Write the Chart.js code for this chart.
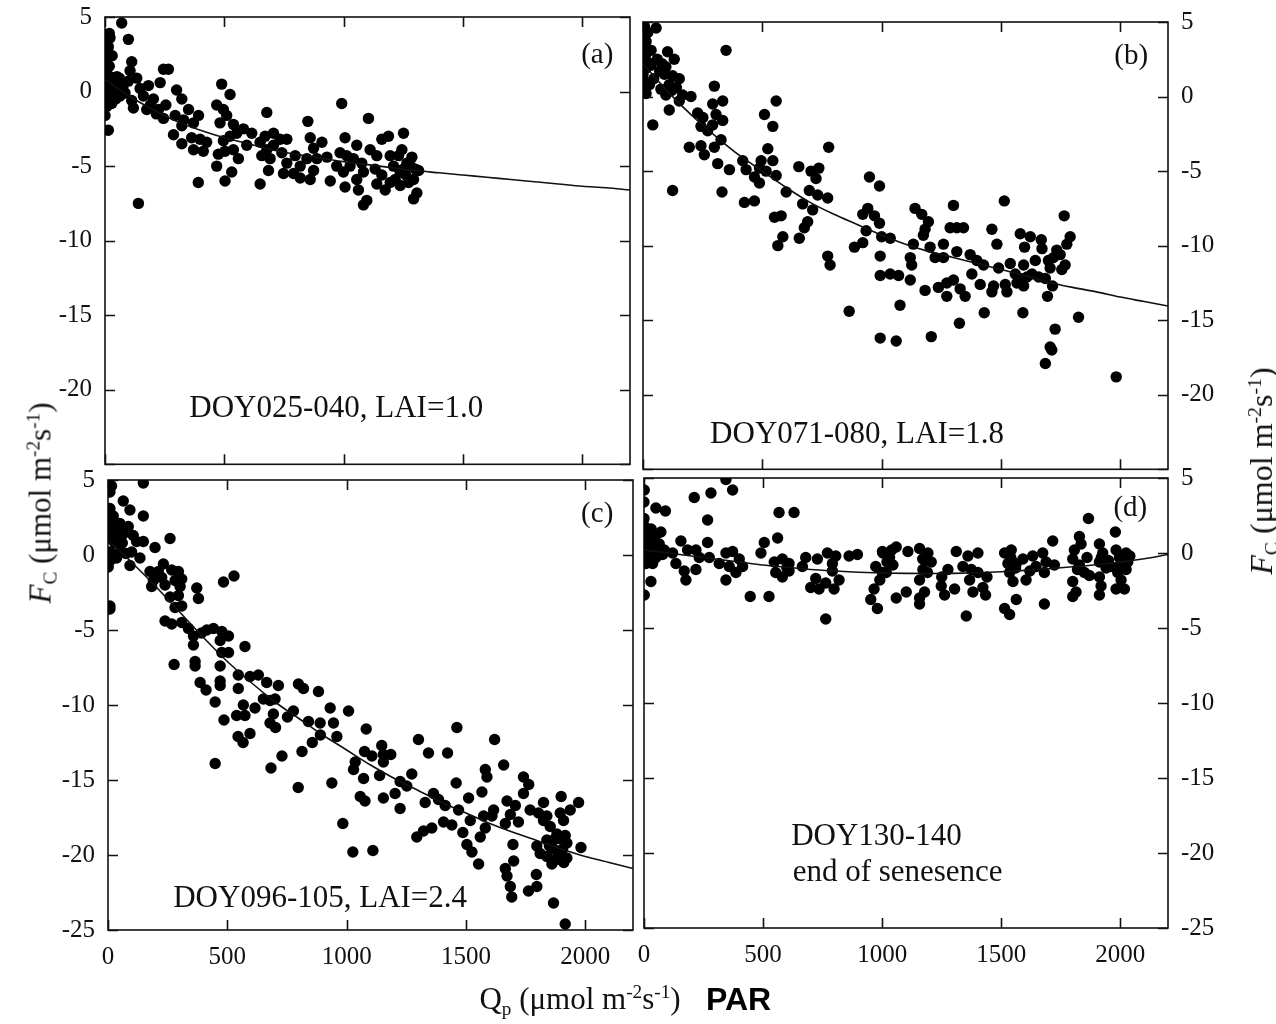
<!DOCTYPE html>
<html>
<head>
<meta charset="utf-8">
<script src="https://cdn.jsdelivr.net/npm/chart.js@4.4.1/dist/chart.umd.min.js"></script>
<style>
  html, body { margin: 0; padding: 0; background: #fff; }
  #wrap { position: relative; width: 1276px; height: 1024px; overflow: hidden; background: #fff; }
  canvas.panel { position: absolute; }
  .title { position: absolute; font-family: "Liberation Serif", "Times New Roman", serif; color: #111; white-space: nowrap; line-height: 1; }
  .title sub, .title sup { font-size: 62%; line-height: 0; position: relative; vertical-align: baseline; }
  .title sup { top: -0.55em; }
  .title sub { top: 0.3em; }
  .vt { transform: translate(-50%, -50%) rotate(-90deg); }
  .ht { transform: translate(-50%, -50%); }
  .par { position: absolute; font-family: "Liberation Sans", Arial, sans-serif; font-weight: bold; color: #000; line-height: 1; transform: translateY(-50%); }
</style>
</head>
<body>
<div id="wrap">
  <canvas id="pa" class="panel" width="640" height="470" style="left:0px;top:0px"></canvas>
  <canvas id="pb" class="panel" width="640" height="475" style="left:636px;top:0px"></canvas>
  <canvas id="pc" class="panel" width="640" height="534" style="left:0px;top:462px"></canvas>
  <canvas id="pd" class="panel" width="640" height="534" style="left:636px;top:462px"></canvas>

  <div class="title vt" style="left:40px;top:503px;font-size:31px"><i>F</i><sub>C</sub> (μmol m<sup>-2</sup>s<sup>-1</sup>)</div>
  <div class="title vt" style="left:1261px;top:471px;font-size:32px"><i>F</i><sub>C</sub> (μmol m<sup>-2</sup>s<sup>-1</sup>)</div>
  <div class="title ht" style="left:580px;top:998px;font-size:31px">Q<sub>p</sub> (μmol m<sup>-2</sup>s<sup>-1</sup>)</div>
  <div class="par" style="left:706px;top:999px;font-size:32px">PAR</div>
</div>

<script>
// Axis ticks shared by all four panels
const xTicks = [0, 500, 1000, 1500, 2000];
const yTicks = [-25, -20, -15, -10, -5, 0, 5];

// Fitted light-response curves, sampled every 100 µmol m-2 s-1
const fitQp = [0, 100, 200, 300, 400, 500, 600, 700, 800, 900, 1000, 1100,
               1200, 1300, 1400, 1500, 1600, 1700, 1800, 1900, 2000, 2100, 2200];
const fitA = [0.8, -0.3, -1.2, -2.0, -2.6, -3.1, -3.5, -3.9, -4.2, -4.45, -4.7, -4.9,
              -5.1, -5.3, -5.45, -5.6, -5.75, -5.9, -6.05, -6.2, -6.35, -6.45, -6.6];
const fitB = [2.2, 0.4, -1.2, -2.6, -3.9, -5.0, -6.1, -7.1, -7.9, -8.6, -9.3, -9.9,
              -10.4, -10.8, -11.2, -11.6, -12.0, -12.45, -12.8, -13.1, -13.45, -13.75, -14.05];
const fitC = [1.0, -0.5, -2.1, -3.8, -5.5, -7.1, -8.5, -9.8, -10.9, -12.0, -13.0, -14.0,
              -14.9, -15.7, -16.5, -17.2, -17.9, -18.5, -19.05, -19.6, -20.1, -20.5, -20.9];
const fitD = [0.2, 0.0, -0.2, -0.4, -0.6, -0.8, -0.95, -1.1, -1.2, -1.28, -1.33, -1.36,
              -1.37, -1.36, -1.32, -1.25, -1.16, -1.05, -0.92, -0.78, -0.6, -0.38, -0.1];

// Half-hourly CO2 flux vs PAR, [Qp, Fc]
const obsA = [[70,4.6],[98,3.5],[21,3.6],[14,3.0],[18,3.9],[0,2.6],[3,1.9],[7,1.5],[21,1.0],[0,0.6],
  [35,0.8],[14,-0.1],[2,-0.5],[42,0.1],[56,0.4],[28,-0.8],[7,-1.0],[63,-0.3],[0,-1.6],[14,-2.6],
  [10,2.2],[22,0.9],[8,0.3],[12,-0.2],[5,3.3],[10,2.8],[3,0.1],[25,0.2],[45,-0.5],[18,1.7],
  [30,2.4],[50,1.0],[60,0.9],[75,0.3],
  [112,2.0],[105,1.4],[133,0.9],[98,0.7],[84,-0.1],[112,-0.6],[119,-1.1],[161,-0.3],[182,0.4],[147,0.2],
  [175,-1.2],[203,-0.5],[231,0.6],[224,-1.2],[245,-1.8],[245,1.5],[266,1.5],[300,0.1],[322,-0.5],[294,-1.6],
  [190,-0.9],[215,-1.5],[255,-0.9],
  [329,-1.9],[350,-1.2],[322,-2.3],[287,-2.9],[322,-3.5],[371,-2.1],[392,-1.6],[363,-3.1],[398,-3.2],[371,-3.9],
  [412,-4.0],[426,-3.4],[391,-6.1],[140,-7.5],[489,0.5],[524,-0.2],[468,-0.9],[496,-1.2],[510,-1.6],[482,-2.1],
  [538,-2.2],[552,-2.8],[524,-3.0],[496,-3.3],[475,-4.2],[503,-4.0],[538,-3.9],[559,-4.5],[468,-5.0],[531,-5.4],
  [503,-6.0],[580,-2.5],[615,-2.8],[594,-3.6],[678,-1.4],[671,-3.0],[706,-2.8],[650,-3.4],[678,-3.9],[657,-4.3],
  [706,-3.6],[692,-4.5],[734,-3.2],[762,-3.2],[741,-4.1],[762,-4.8],[685,-5.3],[650,-6.2],[748,-5.5],[797,-4.3],
  [818,-5.0],[790,-5.5],[818,-5.8],[860,-5.9],[850,-2.0],[860,-3.1],[874,-3.8],[909,-3.4],[846,-4.5],[888,-4.5],
  [930,-4.4],[874,-5.3],[944,-6.0],[992,-0.8],[1006,-3.1],[985,-4.1],[1013,-4.3],[971,-5.0],[999,-5.4],[1027,-5.0],
  [1006,-6.4],[1055,-3.6],[1041,-4.5],[1076,-4.8],[1083,-5.4],[1055,-5.9],[1062,-6.6],[1097,-7.3],[1083,-7.6],[1104,-1.8],
  [1111,-3.9],[1139,-4.3],[1160,-3.2],[1188,-3.0],[1132,-5.2],[1160,-5.6],[1139,-6.2],[1174,-6.6],[1195,-4.3],[1230,-4.3],
  [1251,-2.8],[1244,-3.9],[1209,-5.0],[1237,-5.4],[1265,-4.8],[1286,-4.4],[1300,-5.2],[1314,-5.3],[1293,-5.9],[1272,-6.1],
  [1307,-6.8],[1293,-7.2],[1216,-5.9],[1195,-6.1],[1237,-6.3],[1260,-5.6],[1280,-5.0],[1250,-5.2]];

const obsB = [[6,4.7],[55,4.6],[6,4.1],[13,3.7],[6,3.2],[34,3.1],[0,2.6],[13,1.9],[0,1.5],[6,1.0],
  [27,0.8],[13,0.2],[34,2.1],[41,-1.9],[103,3.0],[131,2.5],[96,2.0],[90,1.5],[124,1.4],[152,1.2],
  [20,4.3],[15,2.9],[20,2.3],[8,0.5],[45,1.2],[60,2.5],[70,1.7],[80,2.2],[120,0.4],[140,0.6],
  [110,0.8],[75,0.5],[96,0.1],[166,0.1],[201,0.0],[152,-0.3],[110,-0.9],[229,-1.1],[251,-1.4],[243,-2.0],
  [271,-2.3],[292,-1.9],[299,0.7],[292,-0.5],[334,-0.3],[306,-1.2],[334,-1.6],[348,3.1],[194,-3.4],[243,-3.3],
  [257,-3.9],[299,-3.4],[327,-2.9],[313,-4.5],[362,-4.9],[124,-6.3],[331,-6.4],[418,-4.3],[432,-4.9],[509,-1.2],
  [558,-0.3],[544,-2.0],[495,-4.3],[523,-3.5],[544,-4.3],[488,-4.8],[516,-5.0],[558,-5.3],[467,-5.4],[488,-5.8],
  [600,-6.4],[425,-7.1],[467,-7.0],[551,-8.1],[579,-8.0],[586,-9.4],[565,-10.0],[655,-9.5],[653,-4.7],[704,-5.0],
  [737,-4.8],[725,-5.5],[697,-6.3],[732,-6.6],[774,-6.8],[669,-7.2],[711,-7.6],[690,-8.4],[676,-8.8],[778,-3.4],
  [774,-10.7],[784,-11.3],[864,-14.4],[886,-10.1],[949,-5.4],[991,-6.0],[921,-7.9],[942,-7.5],[970,-8.0],[935,-9.0],
  [991,-8.5],[921,-9.8],[1000,-9.4],
  [1140,-7.5],[1168,-7.9],[1196,-8.4],[1182,-8.9],[1175,-9.3],[1301,-7.3],[1514,-7.0],[1287,-8.8],[1315,-8.8],[1343,-8.8],
  [1462,-8.9],[1483,-9.9],[1765,-8.0],[1790,-9.4],[1776,-9.9],[1581,-9.2],[1623,-9.4],[1669,-9.6],[1599,-10.1],[1672,-10.2],
  [1734,-10.3],[1720,-10.8],[1748,-10.6],[1699,-11.0],[1706,-11.5],[1769,-11.3],[1755,-11.6],[1644,-11.0],[1595,-11.3],[1539,-11.2],
  [1490,-11.5],[1560,-11.9],[1581,-12.2],[1609,-12.1],[1567,-12.5],[1595,-12.7],[1630,-11.9],[1658,-12.1],[1686,-12.2],[1716,-12.7],
  [1695,-13.4],[1592,-14.5],[1727,-15.6],[1706,-16.8],[1713,-17.0],[1686,-17.9],[1825,-14.8],[1983,-18.8],[1036,-9.5],
  [994,-10.7],[994,-12.0],[1036,-11.9],[1071,-12.0],[1120,-12.3],[1133,-9.9],[1120,-10.8],[1126,-11.3],[1203,-10.1],[1224,-10.8],
  [1259,-9.9],[1259,-10.8],[1315,-10.4],[1371,-10.6],[1399,-11.0],[1427,-11.3],[1378,-11.9],[1413,-12.6],[1469,-12.7],[1518,-12.6],
  [1525,-13.1],[1462,-13.1],[1182,-13.0],[1238,-12.8],[1273,-12.5],[1301,-12.3],[1329,-12.9],[1350,-13.4],[1273,-13.4],[1077,-14.0],
  [1430,-14.5],[1326,-15.2],[994,-16.2],[1061,-16.4],[1208,-16.1]];

const obsC = [[15,4.6],[8,4.2],[148,4.8],[64,3.6],[92,3.0],[148,2.6],[8,3.1],[22,2.6],[8,2.2],[50,2.1],
  [85,1.9],[8,1.6],[36,1.3],[64,1.4],[106,1.3],[120,0.9],[148,0.9],[260,1.1],[197,0.5],[29,0.8],
  [8,0.2],[50,0.2],[99,0.2],[134,-0.2],[8,-0.4],[36,-0.2],[92,-0.7],[1,-0.8],[8,-3.4],[8,-3.6],
  [20,1.0],[40,1.8],[15,-0.1],[60,0.8],[75,0.1],
  [232,-0.6],[176,-1.1],[211,-1.1],[267,-1.0],[295,-1.1],[190,-1.7],[225,-1.5],[183,-2.1],[239,-2.0],[281,-1.7],
  [309,-1.6],[302,-2.1],[260,-2.8],[295,-2.7],[309,-3.4],[281,-3.5],[372,-2.2],[379,-2.9],[484,-1.8],[528,-1.4],
  [239,-4.4],[267,-4.6],[309,-4.5],[337,-4.9],[358,-5.4],[392,-5.2],[414,-5.0],[442,-4.9],[477,-5.1],[505,-5.4],
  [470,-5.7],[505,-6.5],[477,-6.5],[574,-6.1],[358,-6.0],[365,-7.1],[365,-7.4],[277,-7.3],[470,-7.4],[386,-8.5],
  [411,-9.0],[470,-8.4],[470,-8.7],[546,-8.0],[546,-8.9],[595,-8.1],[630,-8.0],[665,-8.5],[714,-8.7],[798,-8.6],
  [819,-8.9],[882,-9.1],[449,-9.8],[651,-9.6],[679,-9.7],[700,-9.6],[567,-10.0],[539,-10.7],[574,-10.7],[616,-10.2],
  [693,-10.6],[777,-10.4],[931,-10.2],[1008,-10.4],[486,-11.0],[679,-11.2],[752,-10.8],[840,-11.1],[889,-11.2],[945,-11.2],
  [449,-13.9],[683,-14.2],[729,-13.4],[797,-15.5],[813,-13.1],[856,-12.5],[545,-12.1],[566,-12.5],[595,-11.9],[702,-11.5],
  [890,-12.0],
  [959,-12.1],[938,-15.2],[984,-17.9],[1026,-19.8],[1110,-19.7],[1082,-11.6],[1075,-13.1],[1106,-13.4],[1147,-12.7],[1154,-13.3],
  [1185,-13.3],[1154,-13.8],[1036,-13.8],[1029,-14.3],[1071,-14.9],[1057,-16.1],[1077,-16.4],[1154,-16.2],[1138,-14.7],[1203,-15.9],
  [1224,-16.9],[1224,-15.1],[1252,-15.4],[1273,-14.6],[1301,-12.3],[1343,-13.2],[1423,-13.2],[1329,-16.5],[1364,-15.9],[1385,-16.3],
  [1413,-16.7],[1462,-11.5],[1620,-12.3],[1459,-15.2],[1469,-17.0],[1511,-16.2],[1567,-15.8],[1581,-14.3],[1588,-14.8],[1658,-14.0],
  [1741,-14.8],[1763,-15.3],[1741,-15.9],[1294,-18.8],[1322,-18.4],[1357,-18.2],[1406,-17.8],[1441,-18.0],[1487,-18.5],[1518,-17.7],
  [1574,-17.4],[1616,-17.0],[1504,-19.3],[1525,-19.8],[1553,-20.6],[1560,-18.8],[1581,-18.2],[1609,-17.4],[1665,-17.9],[1686,-17.3],
  [1720,-17.8],[1672,-16.4],[1707,-16.7],[1769,-17.0],[1697,-19.3],[1700,-20.4],[1665,-20.9],[1672,-21.4],[1686,-22.1],[1692,-22.8],
  [1762,-22.4],[1797,-22.1],[1795,-21.3],[1867,-23.2],[1916,-24.6],[1825,-16.5],[1804,-17.2],[1839,-17.4],[1899,-16.1],[1937,-17.0],
  [1972,-16.5],[1895,-17.2],[1909,-17.7],[1853,-18.1],[1881,-18.6],[1916,-18.7],[1923,-19.2],[1797,-19.4],[1811,-19.9],[1839,-20.1],
  [1867,-19.6],[1888,-19.9],[1895,-20.3],[1923,-20.2],[1839,-19.0],[1867,-19.0],[1982,-19.5],[1825,-17.7],
  [1850,-19.4],[1875,-20.3],[1905,-19.6],[1860,-20.6],[1890,-18.9],[1910,-20.5]];

const obsD = [[344,4.9],[372,4.2],[281,4.0],[211,3.7],[1,4.2],[0,3.4],[50,3.0],[90,2.8],[267,2.2],[567,2.7],
  [630,2.7],[0,2.3],[1,1.8],[15,1.4],[0,1.2],[29,1.1],[50,1.2],[71,1.4],[8,0.7],[36,0.7],
  [64,0.6],[85,0.2],[0,0.0],[22,-0.2],[50,-0.3],[78,-0.1],[8,-0.7],[36,-0.7],[29,-1.9],[1,-2.8],
  [20,0.3],[40,0.2],[15,-0.3],[30,1.6],[55,0.4],[70,0.0],
  [155,0.8],[120,0.0],[183,0.2],[218,0.2],[134,-0.7],[169,-1.2],[176,-1.8],[218,-1.1],[232,-0.3],[267,0.7],
  [274,-0.3],[316,-0.7],[344,0.0],[372,0.1],[358,-0.9],[344,-1.8],[386,-1.3],[400,-0.4],[414,-0.9],[446,-2.9],
  [525,-2.9],[505,0.7],[491,0.0],[561,1.0],[547,-0.6],[581,-0.4],[609,-0.7],[553,-1.3],[581,-1.6],[609,-1.2],
  [679,-0.3],[665,-0.9],[728,-0.4],[770,0.0],[791,-0.7],[805,-0.2],[861,-0.2],[896,-0.1],[721,-1.7],[700,-2.3],
  [735,-2.4],[763,-2.0],[798,-2.4],[819,-1.8],[791,-1.2],[763,-4.4],[1001,0.1],[973,-0.9],[1001,-1.3],[966,-2.4],
  [952,-3.1],[980,-3.7],
  [1003,0.0],[1031,-0.3],[1059,0.4],[1017,-1.3],[990,-1.8],[1108,0.1],[1157,0.3],[1192,0.0],[1206,-0.6],[1171,-1.1],
  [1157,-1.8],[1178,-2.6],[1157,-3.4],[1101,-2.6],[1059,-3.0],[1157,-3.0],[1248,-2.2],[1262,-2.8],[1276,-1.1],[1304,-2.4],
  [1311,0.1],[1360,-0.2],[1402,0.0],[1339,-0.9],[1374,-1.1],[1402,-1.3],[1367,-1.8],[1381,-2.6],[1423,-2.3],[1434,-2.8],
  [1353,-4.2],[1514,0.0],[1542,0.2],[1528,-0.7],[1563,-0.7],[1535,-1.3],[1549,-1.9],[1604,-1.8],[1591,-0.4],[1632,-0.2],
  [1674,0.0],[1646,-0.9],[1688,-0.6],[1723,-0.8],[1681,-1.3],[1716,0.8],[1563,-3.1],[1514,-3.7],[1535,-4.1],[1681,-3.4],
  [1807,0.2],[1828,1.1],[1835,0.6],[1800,-0.4],[1828,-0.8],[1849,-1.3],[1800,-1.9],[1814,-2.6],[1800,-2.9],[1866,2.3],
  [1912,0.6],[1926,0.0],[1912,-0.6],[1940,-1.0],[1912,-1.6],[1919,-2.2],[1912,-2.8],[1979,1.4],[1982,0.2],[1996,-0.3],
  [2024,0.0],[1989,-1.3],[2024,-1.1],[1982,-2.4],[2017,-2.4],[2031,-0.6],[2003,-1.8],
  [1045,-0.8],[1180,-0.5],[1860,-0.3],[2040,-0.2],[1960,-0.9],[1870,-1.5],[1620,-1.2],[1440,-1.6],[1250,-1.6],[600,-1.0],
  [1020,-0.6],[1040,0.2],[1170,-0.4],[1190,-1.3],[1540,-0.3],[1560,-1.0],[1820,-1.1],[1920,-0.3],[2000,-0.8],[2010,-0.4],
  [1950,-0.5]];

const SERIF = "'Liberation Serif', 'Times New Roman', serif";
const INK = '#111';

// Closed frame with inward tick marks on all four sides
const frameTicks = {
  id: 'frameTicks',
  beforeDatasetsDraw(chart) {
    const { ctx, chartArea: a, scales: { x, y } } = chart;
    ctx.save();
    ctx.strokeStyle = INK;
    ctx.lineWidth = 1.6;
    ctx.strokeRect(a.left, a.top, a.right - a.left, a.bottom - a.top);
    ctx.beginPath();
    x.ticks.forEach(t => {
      const px = Math.round(x.getPixelForValue(t.value)) + 0.5;
      ctx.moveTo(px, a.bottom); ctx.lineTo(px, a.bottom - 10);
      ctx.moveTo(px, a.top); ctx.lineTo(px, a.top + 10);
    });
    y.ticks.forEach(t => {
      const py = Math.round(y.getPixelForValue(t.value)) + 0.5;
      ctx.moveTo(a.left, py); ctx.lineTo(a.left + 10, py);
      ctx.moveTo(a.right, py); ctx.lineTo(a.right - 10, py);
    });
    ctx.stroke();
    ctx.restore();
  }
};

// Panel letters and period captions, placed in data coordinates
const panelText = {
  id: 'panelText',
  afterDatasetsDraw(chart, args, opts) {
    const { ctx, scales: { x, y } } = chart;
    ctx.save();
    ctx.fillStyle = INK;
    ctx.textBaseline = 'middle';
    (opts.items || []).forEach(it => {
      ctx.textAlign = it.align || 'center';
      ctx.font = `${it.size}px ${SERIF}`;
      ctx.fillText(it.text, x.getPixelForValue(it.x), y.getPixelForValue(it.y));
    });
    ctx.restore();
  }
};

function makePanel(id, cfg) {
  return new Chart(document.getElementById(id), {
    type: 'scatter',
    data: {
      datasets: [
        {
          data: fitQp.map((q, i) => ({ x: q, y: cfg.fit[i] })),
          showLine: true,
          borderColor: INK,
          borderWidth: 1.6,
          pointRadius: 0,
          cubicInterpolationMode: 'monotone',
          order: 0
        },
        {
          data: cfg.obs.map(p => ({ x: p[0], y: p[1] })),
          backgroundColor: '#000',
          borderColor: '#000',
          borderWidth: 0,
          pointRadius: 5.7,
          pointHoverRadius: 5.7,
          order: 1
        }
      ]
    },
    options: {
      responsive: false,
      animation: false,
      devicePixelRatio: 1,
      events: [],
      layout: { padding: cfg.padding },
      plugins: {
        legend: { display: false },
        tooltip: { enabled: false },
        panelText: { items: cfg.texts }
      },
      scales: {
        x: {
          type: 'linear', min: 0, max: 2200,
          grid: { display: false, drawTicks: false },
          border: { display: false },
          afterBuildTicks: s => { s.ticks = xTicks.map(v => ({ value: v })); },
          ticks: {
            display: cfg.xLabels, padding: 12, autoSkip: false, maxRotation: 0,
            color: INK, font: { family: SERIF, size: 25 },
            callback: v => String(v)
          },
          afterFit: s => { s.height = cfg.xHeight; s.paddingLeft = 0; s.paddingRight = 0; }
        },
        y: {
          type: 'linear', min: -25, max: 5, position: cfg.yPos,
          grid: { display: false, drawTicks: false },
          border: { display: false },
          afterBuildTicks: s => { s.ticks = yTicks.map(v => ({ value: v })); },
          ticks: {
            padding: 13, autoSkip: false,
            color: INK, font: { family: SERIF, size: 25 },
            callback: v => (cfg.hideLowest && v === -25) ? '' : String(v)
          },
          afterFit: s => { s.width = cfg.yWidth; s.paddingTop = 0; s.paddingBottom = 0; }
        }
      }
    },
    plugins: [frameTicks, panelText]
  });
}

makePanel('pa', {
  obs: obsA, fit: fitA, yPos: 'left', yWidth: 105, xHeight: 0, xLabels: false, hideLowest: true,
  padding: { left: 0, top: 17, right: 10, bottom: 3 },
  texts: [
    { text: '(a)', x: 2063, y: 2.4, size: 29 },
    { text: 'DOY025-040, LAI=1.0', x: 969, y: -21.3, size: 31 }
  ]
});

makePanel('pb', {
  obs: obsB, fit: fitB, yPos: 'right', yWidth: 108, xHeight: 0, xLabels: false, hideLowest: true,
  padding: { left: 7, top: 22, right: 0, bottom: 4 },
  texts: [
    { text: '(b)', x: 2046, y: 2.7, size: 29 },
    { text: 'DOY071-080, LAI=1.8', x: 897, y: -22.7, size: 31 }
  ]
});

makePanel('pc', {
  obs: obsC, fit: fitC, yPos: 'left', yWidth: 108, xHeight: 66, xLabels: true, hideLowest: false,
  padding: { left: 0, top: 18, right: 7, bottom: 0 },
  texts: [
    { text: '(c)', x: 2050, y: 2.7, size: 29 },
    { text: 'DOY096-105, LAI=2.4', x: 889, y: -22.9, size: 31 }
  ]
});

makePanel('pd', {
  obs: obsD, fit: fitD, yPos: 'right', yWidth: 108, xHeight: 68, xLabels: true, hideLowest: false,
  padding: { left: 8, top: 16, right: 0, bottom: 0 },
  texts: [
    { text: '(d)', x: 2042, y: 3.0, size: 29 },
    { text: 'DOY130-140', x: 618, y: -18.9, size: 31, align: 'left' },
    { text: 'end of senesence', x: 624, y: -21.3, size: 31, align: 'left' }
  ]
});
</script>
</body>
</html>
